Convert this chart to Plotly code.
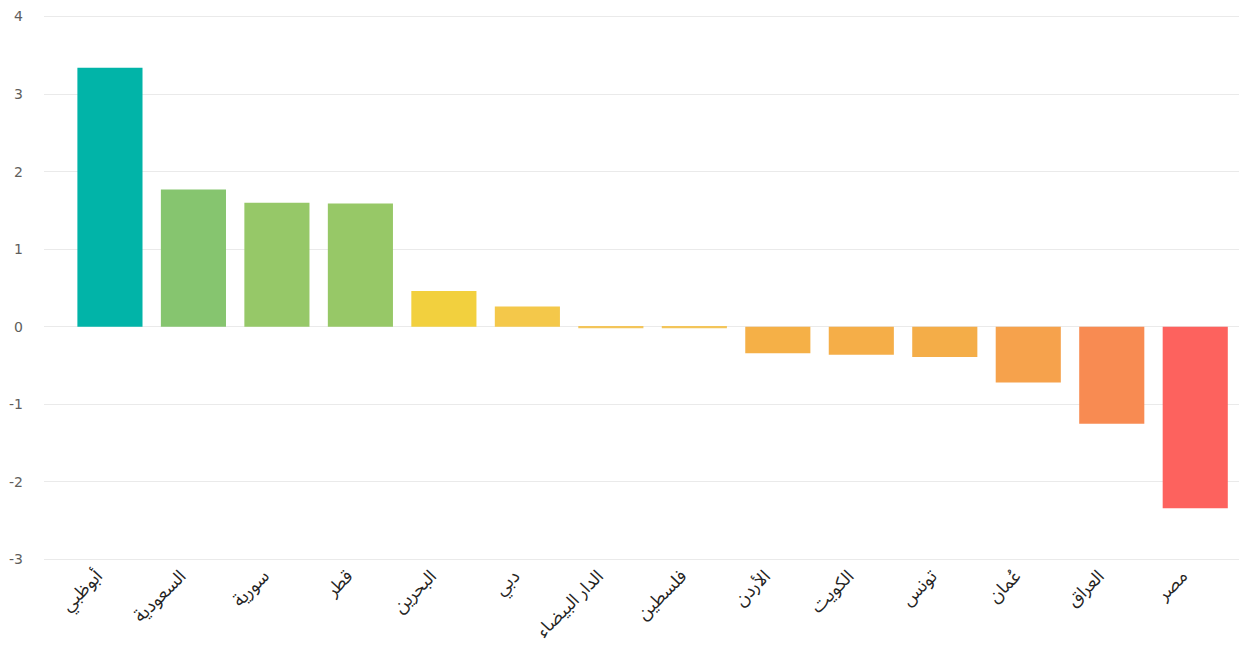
import plotly.graph_objects as go

categories = ["أبوظبي", "السعودية", "سورية", "قطر", "البحرين", "دبي", "الدار البيضاء",
              "فلسطين", "الأردن", "الكويت", "تونس", "عُمان", "العراق", "مصر"]
values = [3.34, 1.77, 1.60, 1.59, 0.46, 0.26, -0.02, -0.02, -0.34, -0.36, -0.39, -0.72, -1.25, -2.34]
colors = ["#01B4A8", "#86C56F", "#96C868", "#97C867", "#F2D03E", "#F4C84A", "#F3C55A",
          "#F3C55A", "#F5B047", "#F5AE48", "#F4AD48", "#F6A24C", "#F88B52", "#FD625E"]
y_ticks = [-3, -2, -1, 0, 1, 2, 3, 4]
y_tick_labels = ["-3", "-2", "-1", "0", "1", "2", "3", "4"]

fig = go.Figure(go.Bar(
    x=categories, y=values,
    marker=dict(color=colors, line=dict(width=0)),
))

fig.update_layout(
    width=1239, height=638,
    margin=dict(l=36, r=0, t=7, b=85),
    paper_bgcolor="white", plot_bgcolor="white",
    bargap=0.22,
    showlegend=False,
    font=dict(family="Segoe UI, Noto Sans Arabic, Noto Naskh Arabic, DejaVu Sans, sans-serif"),
)
fig.update_xaxes(
    range=[-0.79, 13.62],
    tickangle=-45,
    tickfont=dict(size=18, color="#252423"),
    showgrid=False, showline=False, zeroline=False, ticks="",
    ticklabelshift=-13, ticklabelstandoff=0,
    automargin=False,
)
fig.update_yaxes(
    range=[-3.02, 4.02],
    tickvals=y_ticks, ticktext=y_tick_labels,
    tickfont=dict(size=14, color="#605E5C", family="Segoe UI, DejaVu Sans, sans-serif"),
    showgrid=True, gridcolor="#EAEAEA", gridwidth=1,
    zeroline=True, zerolinecolor="#EAEAEA", zerolinewidth=1,
    showline=False, ticks="", ticklabelstandoff=20,
    automargin=False,
)

fig.write_html("out.html")
